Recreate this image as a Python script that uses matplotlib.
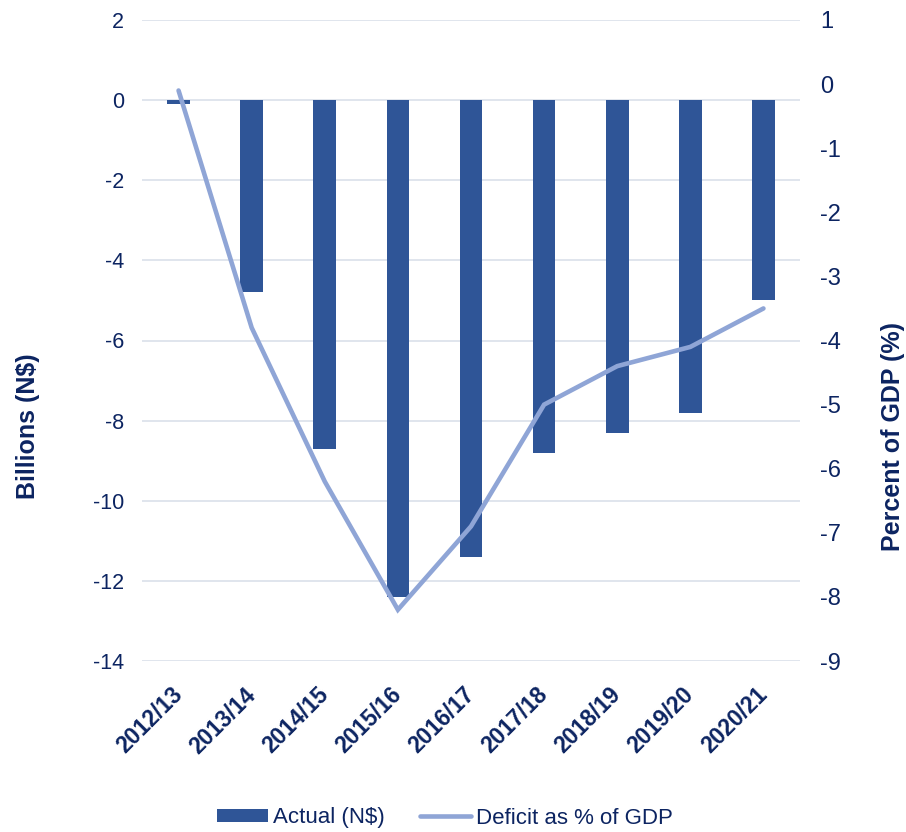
import matplotlib
matplotlib.use("Agg")
import matplotlib.pyplot as plt
import matplotlib.transforms as mtransforms
import numpy as np

years = ["2012/13", "2013/14", "2014/15", "2015/16", "2016/17",
         "2017/18", "2018/19", "2019/20", "2020/21"]
actual_bn = [-0.1, -4.8, -8.7, -12.4, -11.4, -8.8, -8.3, -7.8, -5.0]
deficit_pct = [-0.1, -3.8, -6.2, -8.2, -6.9, -5.0, -4.4, -4.1, -3.5]

navy = "#0c2461"
bar_color = "#2f5597"
line_color = "#8fa5d6"
grid_color = "#dde3ec"

plt.rcParams["font.family"] = ["Liberation Sans", "DejaVu Sans"]
plt.rcParams["axes.unicode_minus"] = False

fig = plt.figure(figsize=(9.06, 8.32), dpi=100)
ax = fig.add_axes([142 / 906, 1 - 661 / 832, (800 - 142) / 906, (661 - 20) / 832])
x = np.arange(len(years))

ax.bar(x, actual_bn, width=0.31, color=bar_color, zorder=3, label="Actual (N$)")
ax.set_xlim(-0.5, len(years) - 0.5)
ax.set_ylim(-14, 2)
ax.set_yticks(np.arange(-14, 3, 2))
ax.yaxis.grid(True, color=grid_color, linewidth=1.3, zorder=0)
ax.set_axisbelow(True)
for s in ax.spines.values():
    s.set_visible(False)
ax.tick_params(axis="both", length=0, colors=navy)
ax.tick_params(axis="y", labelsize=15.5, pad=13)
ax.set_xticks(x)
ax.set_xticklabels(years, rotation=45, ha="right", va="top", rotation_mode="anchor",
                   fontsize=16.5, fontweight="bold", color=navy)
ax.tick_params(axis="x", pad=16)
shift = mtransforms.ScaledTranslation(-8 / 100, 0, fig.dpi_scale_trans)
for lbl in ax.get_xticklabels():
    lbl.set_transform(lbl.get_transform() + shift)
ax.set_ylabel("Billions (N$)", fontsize=18, fontweight="bold", color=navy)
ax.yaxis.set_label_coords(-0.155, 0.367)

ax2 = ax.twinx()
ax2.plot(x, deficit_pct, color=line_color, linewidth=3.3, solid_capstyle="round",
         solid_joinstyle="miter", zorder=4, label="Deficit as % of GDP")
ax2.set_ylim(-9, 1)
ax2.set_yticks(np.arange(-9, 2, 1))
for s in ax2.spines.values():
    s.set_visible(False)
ax2.tick_params(axis="y", length=0, colors=navy, labelsize=17, pad=14.5)
ax2.set_ylabel("Percent of GDP (%)", fontsize=18, fontweight="bold", color=navy)
ax2.yaxis.set_label_coords(1.123, 0.351)

h1, l1 = ax.get_legend_handles_labels()
h2, l2 = ax2.get_legend_handles_labels()
leg = fig.legend(h1 + h2, l1 + l2, loc="center", bbox_to_anchor=(445 / 906, 1 - 818 / 832),
                 ncol=2, frameon=False, fontsize=16, handlelength=2.3, handleheight=0.55,
                 handletextpad=0.2, columnspacing=1.6, borderpad=0)
for t in leg.get_texts():
    t.set_color(navy)

fig.savefig("out.png", dpi=100)
